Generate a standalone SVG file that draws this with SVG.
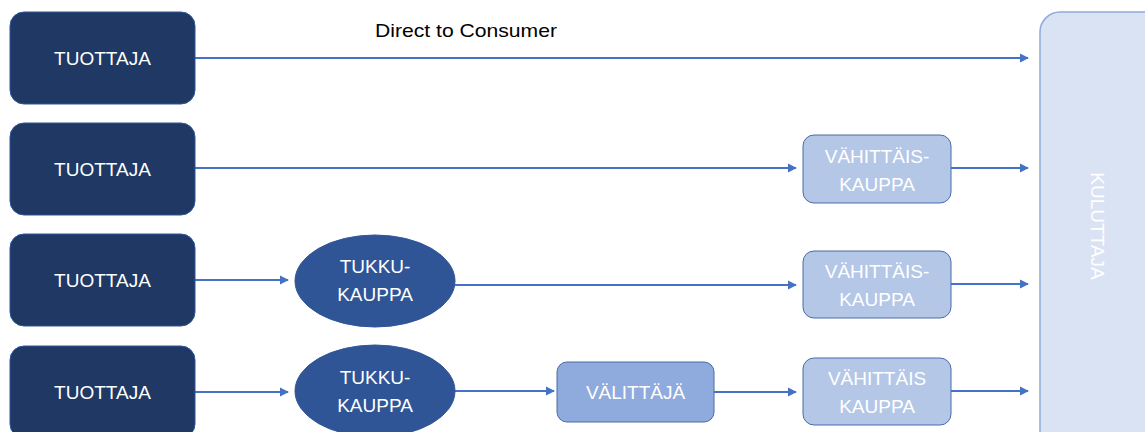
<svg xmlns="http://www.w3.org/2000/svg" width="1145" height="432" viewBox="0 0 1145 432">
<style>
.prod{fill:#203864;stroke:#2F5597;stroke-width:1}
.tukku{fill:#2F5597;stroke:#2F5597;stroke-width:1}
.vahit{fill:#B4C7E7;stroke:#4A6BA8;stroke-width:1}
.valit{fill:#8FAADC;stroke:#4A6BA8;stroke-width:1}
.kul{fill:#DAE3F3;stroke:#8FAADC;stroke-width:1.5}
.t{font-family:"Liberation Sans",Arial,sans-serif;font-size:19px;fill:#FFFFFF;text-anchor:middle}
.lbl{font-family:"Liberation Sans",Arial,sans-serif;font-size:19px;fill:#000000}
.c{stroke:#4472C4;stroke-width:2.2;fill:none;marker-end:url(#ah)}
</style>
<defs>
<marker id="ah" viewBox="0 0 10 10" refX="9" refY="5" markerWidth="4.2" markerHeight="4.2" orient="auto" markerUnits="strokeWidth">
<path d="M0,0 L10,5 L0,10 z" fill="#4472C4"/>
</marker>
</defs>
<g id="kuluttaja">
<rect class="kul" x="1040" y="12" width="130" height="440" rx="20"/>
<text class="t" transform="translate(1097,226) rotate(90)" dy="6">KULUTTAJA</text>
</g>
<g id="connectors">
<line class="c" x1="195" y1="58" x2="1028" y2="58"/>
<line class="c" x1="195" y1="168" x2="796" y2="168"/>
<line class="c" x1="951" y1="168" x2="1028" y2="168"/>
<line class="c" x1="195" y1="280" x2="288" y2="280"/>
<line class="c" x1="455" y1="285" x2="796" y2="285"/>
<line class="c" x1="951" y1="284" x2="1028" y2="284"/>
<line class="c" x1="195" y1="392" x2="288" y2="392"/>
<line class="c" x1="455" y1="391" x2="554" y2="391"/>
<line class="c" x1="714" y1="392" x2="796" y2="392"/>
<line class="c" x1="951" y1="391" x2="1028" y2="391"/>
</g>
<text class="lbl" x="375" y="37" textLength="182" lengthAdjust="spacingAndGlyphs">Direct to Consumer</text>
<g id="tuottaja1">
<rect class="prod" x="10" y="12" width="185" height="92" rx="14"/>
<text class="t" x="102.5" y="65">TUOTTAJA</text>
</g>
<g id="tuottaja2">
<rect class="prod" x="10" y="123" width="185" height="92" rx="14"/>
<text class="t" x="102.5" y="176">TUOTTAJA</text>
</g>
<g id="tuottaja3">
<rect class="prod" x="10" y="234" width="185" height="92" rx="14"/>
<text class="t" x="102.5" y="287">TUOTTAJA</text>
</g>
<g id="tuottaja4">
<rect class="prod" x="10" y="346" width="185" height="92" rx="14"/>
<text class="t" x="102.5" y="399">TUOTTAJA</text>
</g>
<g id="tukku1">
<ellipse class="tukku" cx="375" cy="281" rx="80" ry="46"/>
<text class="t" x="375" y="273">TUKKU-</text>
<text class="t" x="375" y="301">KAUPPA</text>
</g>
<g id="tukku2">
<ellipse class="tukku" cx="375" cy="391" rx="80" ry="46"/>
<text class="t" x="375" y="384">TUKKU-</text>
<text class="t" x="375" y="412">KAUPPA</text>
</g>
<g id="valittaja">
<rect class="valit" x="557" y="362" width="157" height="60" rx="10"/>
<text class="t" x="635.5" y="399">VÄLITTÄJÄ</text>
</g>
<g id="vahittais1">
<rect class="vahit" x="803" y="135" width="148" height="68" rx="11"/>
<text class="t" x="877" y="163">VÄHITTÄIS-</text>
<text class="t" x="877" y="191">KAUPPA</text>
</g>
<g id="vahittais2">
<rect class="vahit" x="803" y="251" width="148" height="67" rx="11"/>
<text class="t" x="877" y="278">VÄHITTÄIS-</text>
<text class="t" x="877" y="306">KAUPPA</text>
</g>
<g id="vahittais3">
<rect class="vahit" x="803" y="358" width="148" height="67" rx="11"/>
<text class="t" x="877" y="385">VÄHITTÄIS</text>
<text class="t" x="877" y="413">KAUPPA</text>
</g>
</svg>
